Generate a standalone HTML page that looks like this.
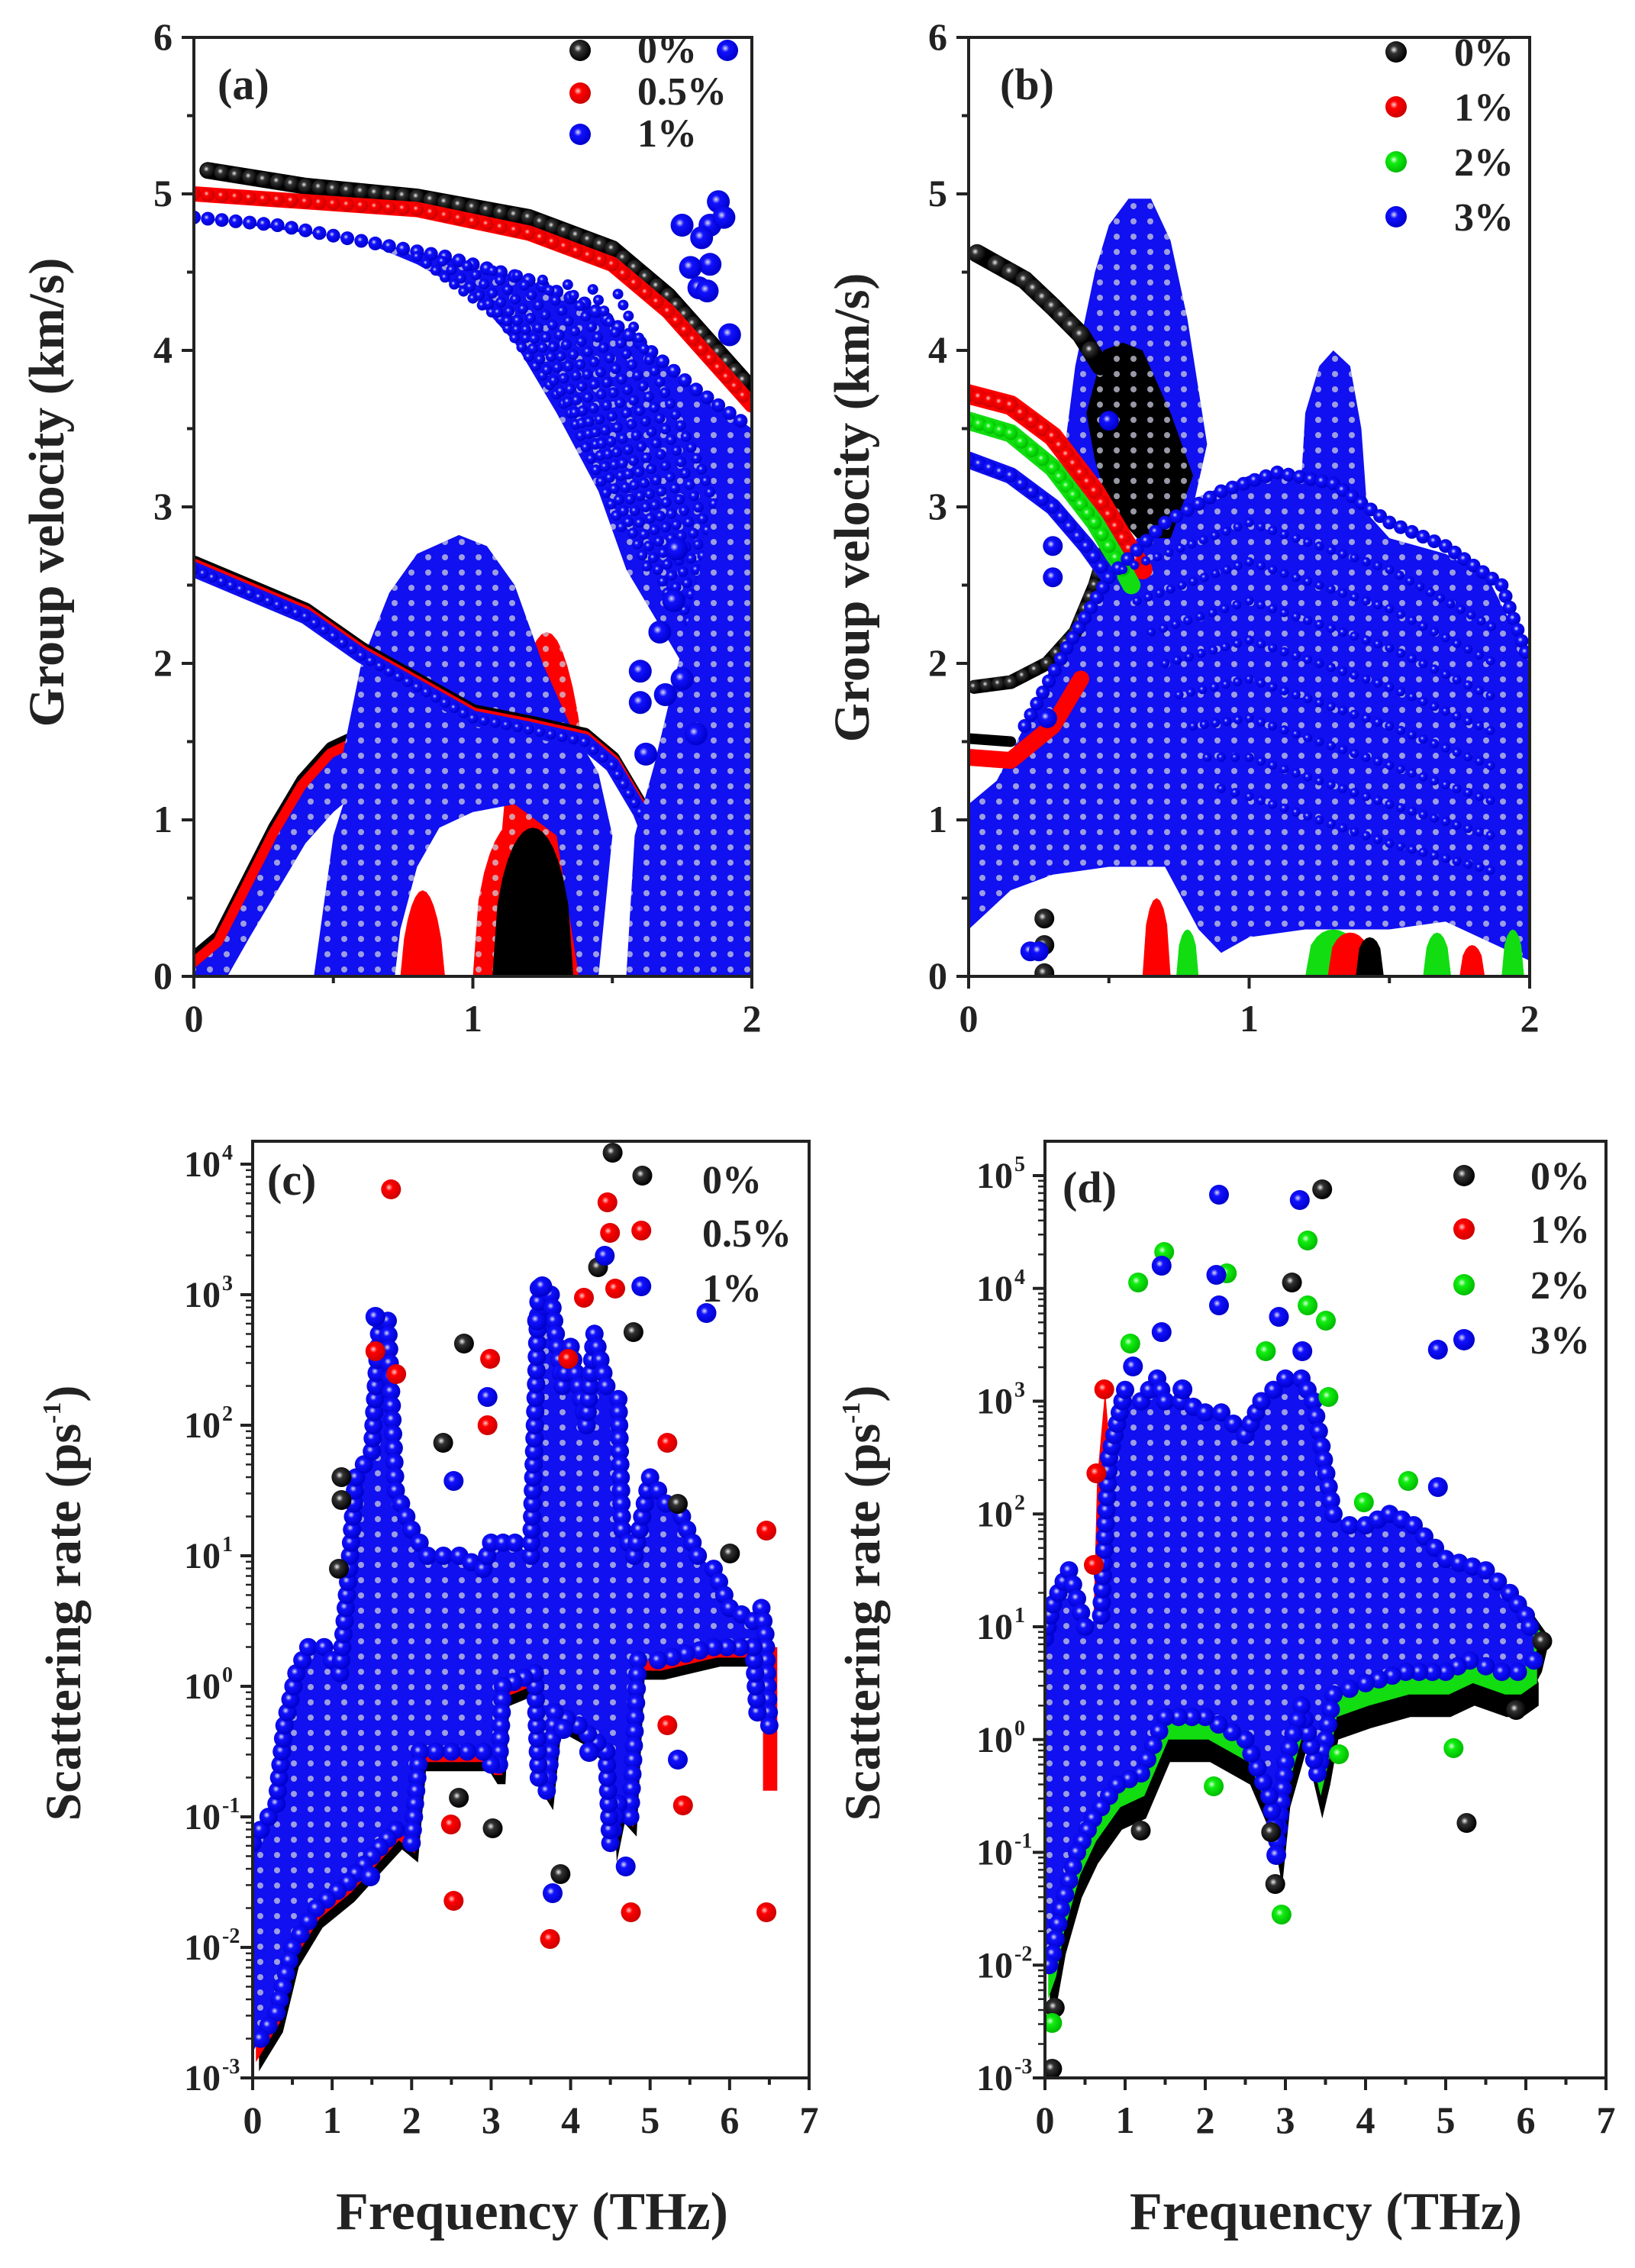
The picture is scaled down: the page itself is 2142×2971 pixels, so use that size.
<!DOCTYPE html>
<html><head><meta charset="utf-8">
<style>
html,body{margin:0;padding:0;background:#fff;}
svg{display:block;}
text{font-family:"Liberation Serif",serif;font-weight:bold;fill:#222;}
</style></head>
<body>
<svg id="s" width="2142" height="2971" viewBox="0 0 2142 2971" xmlns="http://www.w3.org/2000/svg">
<defs>
<radialGradient id="gk" cx="0.4" cy="0.4" r="0.6"><stop offset="0" stop-color="#eee"/><stop offset="0.3" stop-color="#333"/><stop offset="1" stop-color="#000"/></radialGradient>
<radialGradient id="gr" cx="0.4" cy="0.4" r="0.6"><stop offset="0" stop-color="#fcc"/><stop offset="0.3" stop-color="#f00"/><stop offset="1" stop-color="#c00"/></radialGradient>
<radialGradient id="gg" cx="0.4" cy="0.4" r="0.6"><stop offset="0" stop-color="#dfd"/><stop offset="0.3" stop-color="#1e1"/><stop offset="1" stop-color="#0b0"/></radialGradient>
<radialGradient id="gb" cx="0.4" cy="0.4" r="0.6"><stop offset="0" stop-color="#dde"/><stop offset="0.3" stop-color="#11f"/><stop offset="1" stop-color="#00c"/></radialGradient>
<pattern id="dots" width="22" height="20" patternUnits="userSpaceOnUse"><circle cx="11" cy="10" r="4" fill="#ccd" opacity="0.75"/></pattern>
<clipPath id="cpa"><rect x="254" y="49" width="731" height="1230"/></clipPath>
<clipPath id="cpb"><rect x="1269" y="49" width="735" height="1230"/></clipPath>
<clipPath id="cpc"><rect x="331" y="1495" width="729" height="1227"/></clipPath>
<clipPath id="cpd"><rect x="1369" y="1495" width="735" height="1227"/></clipPath>
</defs>
<g id="g"></g>
</svg>
<script>
var out=[];
var col={k:'#000',r:'#f00',g:'#1d1',b:'#1010f0'};
var P={
a:{x0:254,x1:985,y0:1279,y1:49,xa:0,xb:2,ya:0,yb:6},
b:{x0:1269,x1:2004,y0:1279,y1:49,xa:0,xb:2,ya:0,yb:6},
c:{x0:331,x1:1060,y0:2722,y1:1525,xa:0,xb:7,ya:-3,yb:4},
d:{x0:1369,x1:2104,y0:2722,y1:1540,xa:0,xb:7,ya:-3,yb:5}};
function X(p,f){return p.x0+(f-p.xa)/(p.xb-p.xa)*(p.x1-p.x0);}
function Y(p,v){return p.y0+(v-p.ya)/(p.yb-p.ya)*(p.y1-p.y0);}
function poly(k,pts,c,dots,df,dv){df=df||0;dv=dv||0;var p=P[k];
 var s=pts.map(function(q){return X(p,q[0]+df).toFixed(1)+','+Y(p,q[1]+dv).toFixed(1);}).join(' ');
 out.push('<polygon points="'+s+'" fill="'+col[c]+'"/>');
 if(dots)out.push('<polygon points="'+s+'" fill="url(#dots)"/>');}
function ball(x,y,r,c){out.push('<circle cx="'+x.toFixed(1)+'" cy="'+y.toFixed(1)+'" r="'+r+'" fill="url(#g'+c+')"/>');}
function ballD(k,f,v,r,c){var p=P[k];ball(X(p,f),Y(p,v),r,c);}
function edge(k,pts,r,c,step){var p=P[k];step=step||14;
 for(var i=0;i<pts.length-1;i++){var x1=X(p,pts[i][0]),y1=Y(p,pts[i][1]),x2=X(p,pts[i+1][0]),y2=Y(p,pts[i+1][1]);
  var L=Math.hypot(x2-x1,y2-y1),n=Math.max(1,Math.round(L/step));
  for(var j=0;j<n;j++){ball(x1+(x2-x1)*j/n,y1+(y2-y1)*j/n,r,c);}}}
function band(k,pts,w,c){
 var p=P[k];var s=pts.map(function(q){return X(p,q[0]).toFixed(1)+','+Y(p,q[1]).toFixed(1);}).join(' ');
 out.push('<polyline points="'+s+'" fill="none" stroke="'+col[c]+'" stroke-width="'+w+'" stroke-linejoin="round" stroke-linecap="round"/>');}
function arc(f0,f1,pk,n,pw){var a=[];n=n||20;pw=pw||0.7;for(var i=0;i<=n;i++){var f=f0+(f1-f0)*i/n;var t=2*(f-f0)/(f1-f0)-1;a.push([f,pk*Math.pow(Math.max(0,1-t*t),pw)]);}return a;}

/* ---------- panel a ---------- */
out.push('<g clip-path="url(#cpa)">');
var ac=[[0,0.05],[0.1,0.2],[0.2,0.55],[0.3,0.9],[0.4,1.2],[0.5,1.4],[0.56,1.45]];
band('a',ac.map(function(q){return[q[0],q[1]+0.04]}),26,'k');
band('a',ac,26,'r');
poly('a',ac.concat([[0.6,1.2],[0.5,1.05],[0.4,0.85],[0.3,0.55],[0.2,0.25],[0.12,0.0],[0,0]]),'b',true);
poly('a',arc(1.08,1.45,2.2,20,0.6),'r',true);
poly('a',[[0.52,1.3],[0.6,2.0],[0.7,2.45],[0.8,2.7],[0.95,2.82],[1.05,2.75],[1.15,2.5],[1.25,2.0],[1.35,1.6],[1.45,1.3],[1.5,0.9],[1.45,0.0],[1.38,0.0],[1.3,0.9],[1.15,1.1],[1.0,1.05],[0.88,0.95],[0.8,0.7],[0.74,0.3],[0.72,0.0],[0.6,0],[0.66,0.8],[0.62,1.2]],'b',true);
poly('a',[[0.43,0],[0.5,0.9],[0.58,1.35],[0.66,1.3],[0.7,0.8],[0.64,0]],'b',true);
poly('a',arc(0.74,0.9,0.55,12),'r');
poly('a',arc(1.0,1.32,1.0,16,0.5),'r',true);
poly('a',arc(1.07,1.36,0.95,16,0.5),'k');
var tr=[[0,2.6],[0.2,2.45],[0.4,2.3],[0.6,2.05],[0.8,1.85],[1.0,1.65],[1.2,1.58],[1.4,1.5],[1.5,1.35],[1.6,1.05],[1.7,0.6],[1.78,0.2]];
band('a',tr.map(function(q){return[q[0],q[1]+0.04]}),20,'k');
band('a',tr.map(function(q){return[q[0],q[1]+0.02]}),20,'r');
band('a',tr,20,'b');edge('a',tr,7,'b',14);
var bt=[[0,4.85],[0.3,4.8],[0.6,4.7],[0.9,4.6],[1.2,4.45],[1.4,4.3],[1.6,4.05],[1.8,3.75],[2,3.5]];
poly('a',bt.concat([[2,0],[1.92,0],[1.85,1.6],[1.75,2.0],[1.65,2.3],[1.55,2.6],[1.45,3.1],[1.3,3.6],[1.15,4.05],[1.0,4.35],[0.8,4.55],[0.6,4.7]]),'b',true);
var rt=[[0,5.0],[0.4,4.95],[0.8,4.9],[1.2,4.75],[1.5,4.55],[1.7,4.25],[1.85,3.95],[2,3.65]];
var kt=[[0.05,5.15],[0.4,5.05],[0.8,4.98],[1.2,4.85],[1.5,4.65],[1.7,4.35],[1.85,4.05],[2,3.75]];
band('a',kt,22,'k');edge('a',kt,10,'k',18);
band('a',rt,20,'r');edge('a',rt,9,'r',18);
edge('a',bt,9,'b',18);
for(var i=0;i<9;i++){var f0=0.8+i*0.09;edge('a',[[f0,4.6-i*0.03],[f0+0.3,4.2-i*0.12],[f0+0.55,3.6-i*0.2],[Math.min(2,f0+0.75),2.8-i*0.25]],7,'b',16);}
poly('a',[[1.55,0],[1.58,0.9],[1.65,1.35],[1.75,2.1],[1.85,2.9],[1.95,3.4],[2,3.5],[2,0]],'b',true);
[[1.73,2.73],[1.72,2.4],[1.6,1.95],[1.6,1.75],[1.67,2.2],[1.69,1.8],[1.75,1.9],[1.8,1.55],[1.85,4.8],[1.88,4.95],[1.82,4.72],[1.85,4.55],[1.78,4.53],[1.81,4.4],[1.75,4.8],[1.9,4.85],[1.84,4.38],[1.92,4.1],[1.62,1.42]].forEach(function(q){ballD('a',q[0],q[1],15,'b');});
out.push('</g>');

/* ---------- panel b ---------- */
out.push('<g clip-path="url(#cpb)">');
poly('b',[[0,0.3],[0,1.1],[0.1,1.25],[0.2,1.6],[0.3,2.0],[0.45,2.4],[0.6,2.8],[0.8,3.05],[1.0,3.2],[1.1,3.22],[1.25,3.1],[1.4,3.0],[1.5,2.8],[1.7,2.7],[1.85,2.55],[1.95,2.2],[2,2.0],[2,0.1],[1.7,0.35],[1.5,0.3],[1.2,0.3],[1.0,0.25],[0.9,0.15],[0.82,0.3],[0.7,0.7],[0.5,0.7],[0.3,0.65],[0.15,0.55]],'b',true);
poly('b',[[0.33,3.2],[0.38,3.9],[0.45,4.5],[0.5,4.8],[0.57,4.97],[0.65,4.97],[0.72,4.7],[0.78,4.2],[0.85,3.4],[0.8,3.0],[0.6,2.9],[0.45,3.0]],'b',true);
poly('b',[[1.18,3.0],[1.2,3.6],[1.25,3.9],[1.3,4.0],[1.36,3.9],[1.4,3.5],[1.42,3.0]],'b',true);
poly('b',[[0.42,3.6],[0.48,4.0],[0.55,4.05],[0.62,4.0],[0.72,3.6],[0.8,3.2],[0.72,2.8],[0.6,2.8],[0.5,3.0],[0.45,3.3]],'k',true);
var kb=[[0.03,4.62],[0.1,4.55],[0.2,4.45],[0.3,4.28],[0.4,4.1],[0.47,3.9]];
band('b',kb,24,'k');edge('b',kb,12,'k',20);
var kl=[[0.02,1.85],[0.15,1.88],[0.28,2.0],[0.38,2.2],[0.45,2.5],[0.5,2.8]];
band('b',kl,18,'k');edge('b',kl,9,'k',16);
band('b',[[0,1.52],[0.15,1.5]],14,'k');
var rb=[[0,3.72],[0.15,3.65],[0.3,3.45],[0.45,3.1],[0.55,2.8],[0.62,2.6]];
band('b',rb,26,'r');edge('b',rb,10,'r',16);
var gb=[[0,3.55],[0.15,3.47],[0.3,3.25],[0.45,2.9],[0.55,2.6],[0.58,2.5]];
band('b',gb,24,'g');edge('b',gb,9,'g',16);
var bb=[[0,3.3],[0.15,3.2],[0.3,3.0],[0.42,2.75],[0.5,2.55]];
band('b',bb,22,'b');edge('b',bb,9,'b',16);
band('b',[[0,1.4],[0.15,1.38],[0.3,1.6],[0.4,1.9]],22,'r');
var bd=[[0.2,1.6],[0.35,2.1],[0.5,2.55],[0.7,2.9],[0.9,3.1],[1.1,3.22],[1.3,3.15],[1.5,2.9],[1.7,2.75],[1.9,2.5],[2,2.0]];
edge('b',bd,9,'b',16);
for(var i=0;i<8;i++){edge('b',[[0.55+i*0.05,2.6-i*0.2],[1.0,2.9-i*0.25],[1.5,2.6-i*0.25],[1.9,2.2-i*0.22]],6,'b',16);}
poly('b',arc(0.62,0.72,0.5,8,0.5),'r');
poly('b',arc(0.74,0.82,0.3,8,0.5),'g');
poly('b',arc(1.2,1.4,0.3,10,0.4),'g');poly('b',arc(1.28,1.44,0.28,10,0.4),'r');poly('b',arc(1.38,1.48,0.25,8,0.4),'k');
poly('b',arc(1.62,1.72,0.28,8,0.5),'g');poly('b',arc(1.75,1.84,0.2,8,0.5),'r');poly('b',arc(1.9,1.98,0.3,8,0.5),'g');
[[0.27,0.37,'k'],[0.27,0.2,'k'],[0.27,0.02,'k'],[0.22,0.16,'b'],[0.25,0.16,'b'],[0.5,3.55,'b'],[0.3,2.75,'b'],[0.3,2.55,'b'],[0.28,1.65,'b']].forEach(function(q){ballD('b',q[0],q[1],13,q[2]);});
out.push('</g>');

function zc(arr,c,k){arr.forEach(function(q){var x,y;if(k=='c'){x=q[0]/1.464;y=1400+q[1];}else{x=1071+q[0]/1.464;y=1400+q[1];}ball(x,y,13,c);});}
/* ---------- panel c ---------- */
out.push('<g clip-path="url(#cpc)">');
var ctop=[[0,-1.2],[0.1,-1.1],[0.3,-0.9],[0.4,-0.3],[0.55,0.1],[0.7,0.3],[0.9,0.3],[1.1,0.1],[1.2,0.8],[1.3,1.6],[1.5,1.8],[1.6,2.8],[1.7,2.8],[1.8,1.5],[2.0,1.2],[2.2,1.0],[2.6,1.0],[2.9,0.9],[3.0,1.1],[3.3,1.1],[3.5,1.0],[3.55,2.0],[3.6,3.05],[3.75,3.0],[3.9,2.3],[4.0,2.6],[4.2,2.0],[4.3,2.7],[4.45,2.3],[4.6,2.2],[4.65,1.2],[4.8,1.0],[5.0,1.6],[5.2,1.4],[5.4,1.3],[5.6,1.0],[5.8,0.9],[6.0,0.6],[6.3,0.5],[6.4,0.6],[6.45,0.4],[6.5,-0.3]];
var cbot=[[6.5,-0.3],[6.35,-0.2],[6.3,0.3],[5.8,0.3],[5.1,0.2],[4.85,0.2],[4.75,-1.0],[4.6,-0.9],[4.5,-1.2],[4.45,-0.5],[4.1,-0.3],[3.8,-0.2],[3.7,-0.8],[3.6,-0.7],[3.55,0.1],[3.15,0.0],[3.1,-0.6],[3.0,-0.6],[2.9,-0.5],[2.5,-0.5],[2.1,-0.5],[2.0,-1.2],[1.8,-1.1],[1.5,-1.3],[1.2,-1.5],[0.8,-1.7],[0.5,-2.0],[0.3,-2.5],[0.1,-2.7],[0,-2.8]];
var cp=ctop.concat(cbot);
poly('c',cp,'k',false,0.08,-0.15);
poly('c',cp,'r',false,0.04,-0.08);
poly('c',[[6.42,0.3],[6.6,0.3],[6.6,-0.8],[6.42,-0.8]],'r');
poly('c',cp,'b',true);
edge('c',ctop,12,'b',18);edge('c',cbot,12,'b',18);
zc([[1175,110],[1232,140],[1215,345],[1147,260],[890,360],[850,490],[1300,570],[1400,635],[1075,1055],[945,995],[880,955],[655,535],[655,565],[650,655]],'k','c');
zc([[750,158],[1165,175],[1170,215],[1230,212],[1180,288],[940,380],[935,467],[1280,490],[1470,605],[870,1090],[1055,1140],[1210,1105],[1470,1105],[1280,860],[1310,965],[865,990],[720,370],[760,400],[1090,380],[1120,300]],'r','c');
zc([[1160,245],[1230,285],[1355,320],[935,430],[870,540],[1300,905],[1080,865],[1130,895],[710,1058],[1060,1080],[1200,1045],[720,325],[1040,285],[1030,330]],'b','c');
out.push('</g>');

/* ---------- panel d ---------- */
out.push('<g clip-path="url(#cpd)">');
var dtop=[[0,0.9],[0.1,1.2],[0.3,1.5],[0.5,1.0],[0.7,1.1],[0.8,2.5],[0.9,2.8],[1.0,3.1],[1.2,3.0],[1.4,3.2],[1.5,3.0],[1.7,3.0],[2.0,2.9],[2.2,2.9],[2.5,2.7],[2.7,3.0],[3.0,3.2],[3.2,3.2],[3.35,3.0],[3.45,2.6],[3.6,2.0],[3.8,1.9],[4.0,1.9],[4.3,2.0],[4.6,1.9],[5.0,1.6],[5.5,1.5],[5.8,1.3],[6.0,1.1],[6.1,0.9]];
var dbot=[[6.1,0.7],[5.9,0.6],[5.7,0.6],[5.3,0.7],[5.0,0.6],[4.5,0.6],[4.0,0.5],[3.6,0.4],[3.5,0.0],[3.4,-0.3],[3.2,0.3],[3.0,-0.2],[2.9,-0.9],[2.8,-0.5],[2.5,0.0],[2.0,0.2],[1.5,0.2],[1.2,-0.3],[0.9,-0.4],[0.6,-0.7],[0.4,-1.0],[0.2,-1.5],[0.1,-1.9],[0,-2.1]];
var dp=dtop.concat(dbot);
poly('d',dp,'k',false,0.06,-0.4);
poly('d',[[5.5,1.2],[6.0,1.2],[6.3,0.9],[6.2,0.6],[5.9,0.2],[5.5,0.5]],'k');
poly('d',dp,'g',false,0.04,-0.2);
poly('d',[[5.6,1.3],[6.2,0.95],[6.1,0.7],[5.6,0.8]],'g');
poly('d',[[0.6,0.9],[0.65,2.3],[0.75,3.1],[0.82,2.5],[0.9,-0.4],[0.75,-0.5]],'r');
poly('d',dp,'b',true);
edge('d',dtop,12,'b',18);edge('d',dbot,12,'b',18);
zc([[968,158],[910,280],[1245,988],[878,1068],[620,998],[450,1310],[455,1230],[1390,750],[1340,840],[870,1000]],'k','d');
zc([[550,420],[535,530],[530,650]],'r','d');
zc([[940,225],[940,310],[1133,540],[1048,568],[890,1108],[1220,890],[1000,898],[785,268],[615,280],[760,940],[450,1250],[665,240],[600,360],[975,330],[980,430],[860,370]],'g','d');
zc([[770,165],[925,172],[885,325],[1190,368],[770,310],[1190,548],[660,258],[660,345],[765,270],[605,390],[700,420],[930,370],[880,1030]],'b','d');
out.push('</g>');

/* ---------- frames, ticks, labels ---------- */
function frame(k){var p=P[k];var top=(k=='c'||k=='d')?1495:p.y1;
 out.push('<rect x="'+p.x0+'" y="'+top+'" width="'+(p.x1-p.x0)+'" height="'+(p.y0-top)+'" fill="none" stroke="#222" stroke-width="4"/>');return top;}
function txt(x,y,s,size,anchor,extra){out.push('<text x="'+x+'" y="'+y+'" font-size="'+size+'" text-anchor="'+(anchor||'middle')+'" '+(extra||'')+'>'+s+'</text>');}
['a','b'].forEach(function(k){var p=P[k];frame(k);
 for(var v=0;v<=6;v+=0.5){var y=Y(p,v);var L=(v%1==0)?16:9;out.push('<line x1="'+(p.x0-L)+'" y1="'+y+'" x2="'+p.x0+'" y2="'+y+'" stroke="#222" stroke-width="4"/>');
  if(v%1==0)txt(p.x0-28,y+16,v,50,'end');}
 for(var f=0;f<=2;f+=0.5){var x=X(p,f);var L=(f%1==0)?16:9;out.push('<line x1="'+x+'" y1="'+p.y0+'" x2="'+x+'" y2="'+(p.y0+L)+'" stroke="#222" stroke-width="4"/>');
  if(f%1==0)txt(x,p.y0+72,f,50);}
});
txt(83,645,'Group velocity (km/s)',66,'middle','transform="rotate(-90 83 645)"');
txt(1138,665,'Group velocity (km/s)',66,'middle','transform="rotate(-90 1138 665)"');
['c','d'].forEach(function(k){var p=P[k];frame(k);
 for(var e=-3;e<=p.yb;e++){var y=Y(p,e);out.push('<line x1="'+(p.x0-16)+'" y1="'+y+'" x2="'+p.x0+'" y2="'+y+'" stroke="#222" stroke-width="4"/>');
  out.push('<text x="'+(p.x0-42)+'" y="'+(y+16)+'" font-size="48" text-anchor="end">10</text>');
  out.push('<text x="'+(p.x0-40)+'" y="'+(y-6)+'" font-size="28" text-anchor="start">'+(e<0?'-'+(-e):e)+'</text>');
  if(e<p.yb)for(var m=2;m<10;m++){var ym=Y(p,e+Math.log10(m));out.push('<line x1="'+(p.x0-9)+'" y1="'+ym+'" x2="'+p.x0+'" y2="'+ym+'" stroke="#222" stroke-width="2.5"/>');}}
 for(var f=0;f<=7;f+=0.5){var x=X(p,f);var L=(f%1==0)?16:9;out.push('<line x1="'+x+'" y1="'+p.y0+'" x2="'+x+'" y2="'+(p.y0+L)+'" stroke="#222" stroke-width="4"/>');
  if(f%1==0)txt(x,p.y0+72,f,50);}
});
txt(105,2100,'Scattering rate (ps<tspan font-size="34" dy="-26">-1</tspan><tspan dy="26">)</tspan>',66,'middle','transform="rotate(-90 105 2100)"');
txt(1152,2100,'Scattering rate (ps<tspan font-size="34" dy="-26">-1</tspan><tspan dy="26">)</tspan>',66,'middle','transform="rotate(-90 1152 2100)"');
txt(697,2920,'Frequency (THz)',70);txt(1737,2920,'Frequency (THz)',70);
txt(285,130,'(a)',58,'start');txt(1310,130,'(b)',58,'start');
txt(350,1565,'(c)',58,'start');txt(1392,1575,'(d)',58,'start');
ball(760,66,14,'k');ball(760,122,14,'r');ball(760,176,14,'b');ball(953,66,14,'b');
txt(835,82,'0%',52,'start');txt(835,137,'0.5%',52,'start');txt(835,192,'1%',52,'start');
[['k',0],['r',1],['g',2],['b',3]].forEach(function(q,i){ball(1829,68+i*72,14,q[0]);});
txt(1905,86,'0%',52,'start');txt(1905,158,'1%',52,'start');txt(1905,230,'2%',52,'start');txt(1905,302,'3%',52,'start');
txt(920,1563,'0%',52,'start');txt(920,1633,'0.5%',52,'start');txt(920,1705,'1%',52,'start');
ball(1918,1540,14,'k');ball(1918,1610,14,'r');ball(1918,1683,14,'g');ball(1918,1755,14,'b');
txt(2005,1558,'0%',52,'start');txt(2005,1628,'1%',52,'start');txt(2005,1701,'2%',52,'start');txt(2005,1773,'3%',52,'start');
document.getElementById('g').innerHTML=out.join('');
</script>
</body></html>
